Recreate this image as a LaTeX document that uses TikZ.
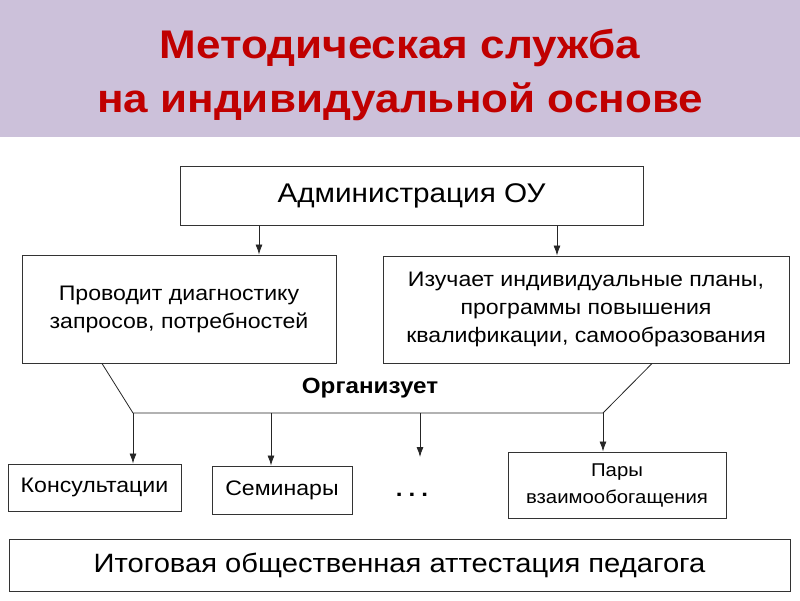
\documentclass[tikz,border=0pt]{standalone}
\usepackage{fontspec}
\setmainfont{Liberation Sans}[FakeStretch=1.1]
\usetikzlibrary{arrows.meta}
\definecolor{bandlilac}{HTML}{CCC1DA}
\definecolor{titlered}{HTML}{C00000}

\begin{document}
\begin{tikzpicture}[x=1pt,y=-1pt,
	box/.style={draw=black!80, line width=1pt, fill=white, inner sep=0pt, align=center,
		font=\fontsize{21}{28}\selectfont},
	link/.style={line width=0.8pt, black!85},
	arr/.style={link, -{Latex[length=10pt,width=7pt]}}]

	\useasboundingbox (0,0) rectangle (800,600);
	\fill[bandlilac] (0,0) rectangle (800,137);

	\node[titlered, font=\bfseries\fontsize{40}{54}\selectfont, align=center] (title) at (400,75)
		{Методическая служба\\на индивидуальной основе};

	\node[box, minimum width=463, minimum height=59, font=\fontsize{27}{32}\selectfont] (admin) at (411.5,195.5) {Администрация ОУ};
	\node[box, minimum width=314, minimum height=108] (diag) at (179,309) {Проводит диагностику\\запросов, потребностей};
	\node[box, minimum width=406, minimum height=107] (study) at (586,309.5) {Изучает индивидуальные планы,\\программы повышения\\квалификации, самообразования};

	\node[font=\bfseries\fontsize{22}{28}\selectfont] (org) at (370,388) {Организует};

	\node[box, minimum width=173, minimum height=47] (kons) at (94.5,487.5) {Консультации};
	\node[box, minimum width=140, minimum height=48] (sem) at (282,490) {Семинары};
	\node[font=\bfseries\fontsize{22}{26}\selectfont] (dots) at (412,495) {.\hspace{6pt}.\hspace{6pt}.};
	\node[box, minimum width=218, minimum height=66, font=\fontsize{18.5}{27}\selectfont] (pary) at (617,485) {Пары\\взаимообогащения};
	\node[box, minimum width=781, minimum height=52, font=\fontsize{26.5}{30}\selectfont] (final) at (399.5,565) {Итоговая общественная аттестация педагога};

	\draw[arr] (admin.south -| 259,0) -- (diag.north -| 259,0);
	\draw[arr] (admin.south -| 557,0) -- (study.north -| 557,0);

	\coordinate (busL) at (133,413);
	\coordinate (busR) at (603,413);
	\coordinate (more) at (420,457);
	\draw[link] (diag.south -| 102,0) -- (busL) -- (busR) -- (study.south -| 652,0);

	\draw[arr] (busL) -- (kons.north -| busL);
	\draw[arr] (busL -| 271,0) -- (sem.north -| 271,0);
	\draw[arr] (busL -| more) -- (more);
	\draw[arr] (busR) -- (pary.north -| busR);

\end{tikzpicture}
\end{document}
